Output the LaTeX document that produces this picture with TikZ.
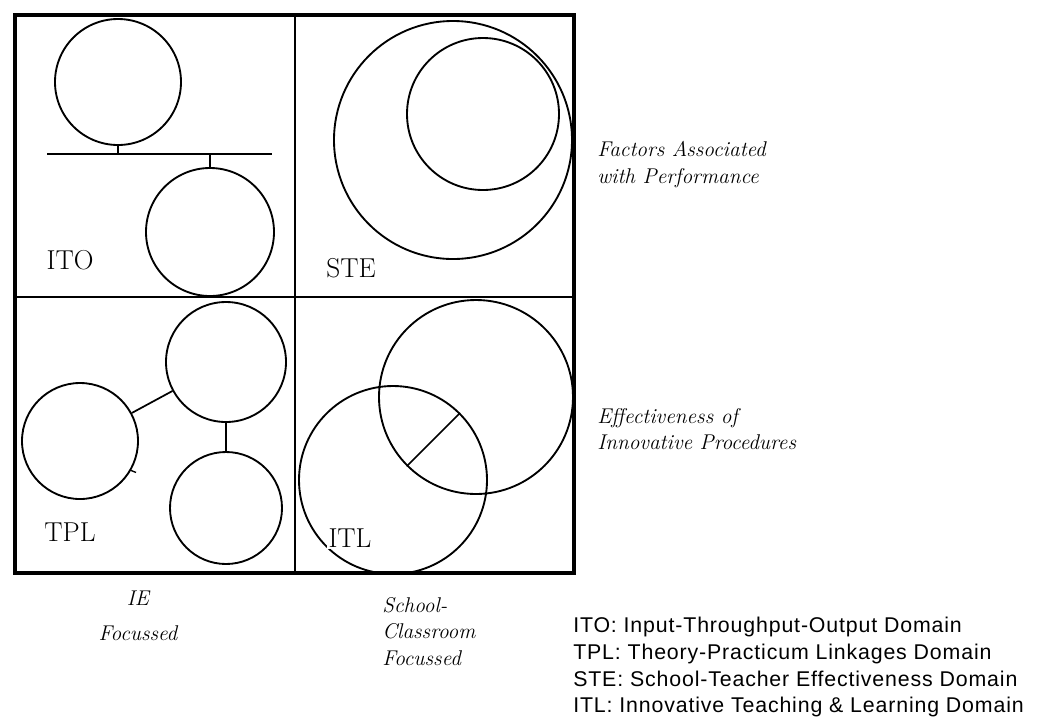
\documentclass[tikz,border=0pt]{standalone}
\usepackage{fontspec}
\usepackage{tikz}
\usetikzlibrary{positioning}
\newfontfamily\legendfont[LetterSpace=4]{Liberation Sans}

\begin{document}
\begin{tikzpicture}[x=0.75pt, y=-0.75pt,
    ring/.style={circle, draw, line width=1.4pt, inner sep=0pt, minimum size=#1*1.5pt},
    domainlabel/.style={font=\fontsize{20.5}{24}\selectfont, inner sep=0pt},
    sidetext/.style={font=\fontsize{16}{20}\selectfont\itshape, align=left, inner sep=0pt, anchor=north west},
    keytext/.style={font=\fontsize{16}{20}\selectfont\legendfont, align=left, inner sep=0pt, anchor=north west},
]
    \useasboundingbox (0,0) rectangle (1038,719);

    % frame and the four domains
    \draw[line width=3.5pt] (15,15) rectangle (574,573);
    \draw[line width=1.8pt] (295,15) -- (295,573);
    \draw[line width=1.8pt] (15,297) -- (574,297);

    % ITO
    \node[ring=63] (itoA) at (118,82) {};
    \node[ring=64] (itoB) at (210,232) {};
    \coordinate (barL) at (47,154);
    \coordinate (barR) at (272,154);
    \draw[line width=1.3pt] (barL) -- (barR);
    \draw[line width=1.3pt] (itoA.south) -- (itoA.south |- barL);
    \draw[line width=1.3pt] (itoB.north) -- (itoB.north |- barL);
    \node[domainlabel] (ito) at (70,260) {ITO};

    % STE
    \node[ring=119] (steA) at (453,140) {};
    \node[ring=76] (steB) at (483,114) {};
    \node[domainlabel] (ste) at (351,268) {STE};

    % TPL
    \node[ring=60] (tplA) at (226,362) {};
    \node[ring=58] (tplB) at (80,441) {};
    \node[ring=56] (tplC) at (226,508) {};
    \draw[line width=1.3pt] (tplB) -- (tplA);
    \draw[line width=1.3pt] (tplA) -- (tplC);
    \draw[line width=1pt] (tplB.-30) -- ++(5,2);
    \node[domainlabel] (tpl) at (70,532) {TPL};

    % ITL
    \node[ring=97] (itlA) at (476,397) {};
    \node[ring=94] (itlB) at (393,480) {};
    \draw[line width=1.3pt] (itlA.225) -- (itlB.45);
    \node[domainlabel, fill=white, inner sep=1pt] (itl) at (350,538) {ITL};

    % side and bottom texts
    \node[sidetext] (perf) at (597,141) {Factors Associated\\with Performance};
    \node[sidetext] (proc) at (597,408) {Effectiveness of\\Innovative Procedures};
    \node[sidetext, anchor=north, align=center] (ie) at (138,591) {IE\\[6pt]Focussed};
    \node[sidetext] (school) at (382,597) {School-\\Classroom\\Focussed};

    % legend
    \node[keytext] (key) at (573,617) {ITO: Input-Throughput-Output Domain\\
        TPL: Theory-Practicum Linkages Domain\\
        STE: School-Teacher Effectiveness Domain\\
        ITL: Innovative Teaching \& Learning Domain};
\end{tikzpicture}
\end{document}
